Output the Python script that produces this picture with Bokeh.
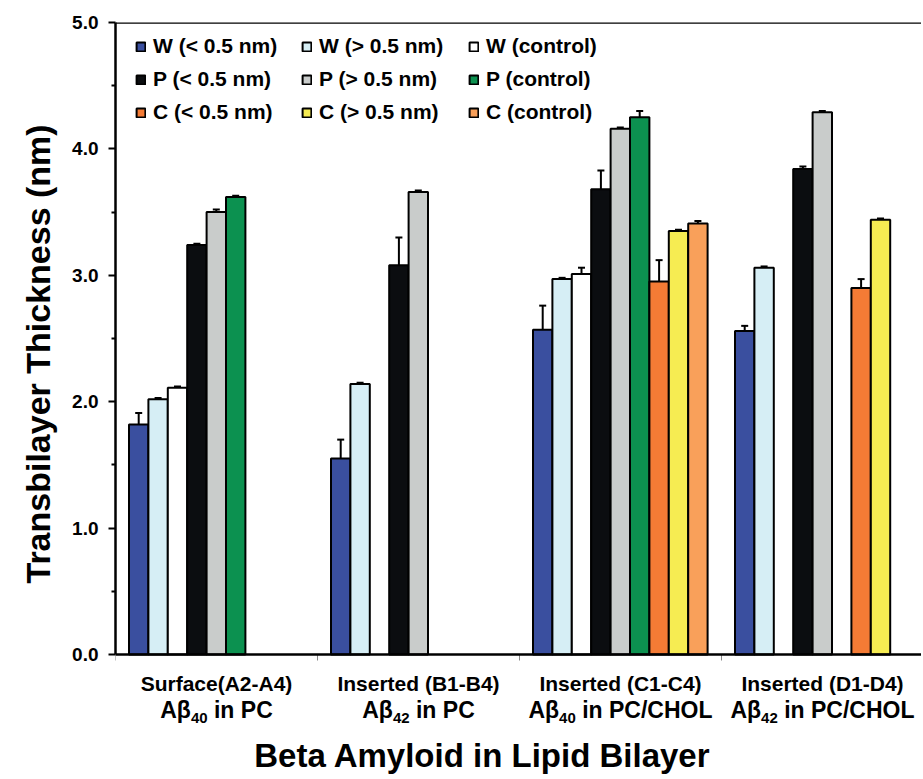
from bokeh.plotting import figure
from bokeh.models import (ColumnDataSource, Range1d, Legend, LegendItem, Whisker, TeeHead,
                          Span, Title, FixedTicker, PrintfTickFormatter)
from bokeh.core.properties import value
from bokeh.embed import file_html
from bokeh.resources import INLINE

# ---------------- data ----------------
group_line1 = ["Surface(A2-A4)", "Inserted (B1-B4)", "Inserted (C1-C4)", "Inserted (D1-D4)"]
group_line2_main = ["Aβ", "Aβ", "Aβ", "Aβ"]
group_line2_sub = ["40", "42", "40", "42"]
group_line2_rest = ["in PC", "in PC", "in PC/CHOL", "in PC/CHOL"]
x_title = "Beta Amyloid in Lipid Bilayer"
y_title = "Transbilayer Thickness (nm)"

series_names = ["W (< 0.5 nm)", "W (> 0.5 nm)", "W (control)",
                "P (< 0.5 nm)", "P (> 0.5 nm)", "P (control)",
                "C (< 0.5 nm)", "C (> 0.5 nm)", "C (control)"]

W_lt = [1.82, 1.55, 2.57, 2.56]
W_lt_err = [0.09, 0.15, 0.19, 0.04]
W_gt = [2.02, 2.14, 2.97, 3.06]
W_gt_err = [0.01, 0.01, 0.01, 0.01]
W_ctrl = [2.11, None, 3.01, None]
W_ctrl_err = [0.01, None, 0.05, None]
P_lt = [3.24, 3.08, 3.68, 3.84]
P_lt_err = [0.01, 0.22, 0.15, 0.02]
P_gt = [3.50, 3.66, 4.16, 4.29]
P_gt_err = [0.02, 0.01, 0.01, 0.01]
P_ctrl = [3.62, None, 4.25, None]
P_ctrl_err = [0.01, None, 0.05, None]
C_lt = [None, None, 2.95, 2.90]
C_lt_err = [None, None, 0.17, 0.07]
C_gt = [None, None, 3.35, 3.44]
C_gt_err = [None, None, 0.01, 0.01]
C_ctrl = [None, None, 3.41, None]
C_ctrl_err = [None, None, 0.02, None]

y_major_ticks = [0, 1, 2, 3, 4, 5]
y_minor_ticks = [0.5, 1.5, 2.5, 3.5, 4.5]
group_boundaries = [0, 1, 2, 3]

# ---------------- style ----------------
colors = ["#3a4f9f", "#d6eef5", "#ffffff",
          "#0b0d10", "#c9cccb", "#0c9150",
          "#f47b35", "#f6ec52", "#f9a05a"]
FONT = "Liberation Sans"

values = [W_lt, W_gt, W_ctrl, P_lt, P_gt, P_ctrl, C_lt, C_gt, C_ctrl]
errors = [W_lt_err, W_gt_err, W_ctrl_err, P_lt_err, P_gt_err, P_ctrl_err, C_lt_err, C_gt_err, C_ctrl_err]

W, H = 921, 777
BL, BT = 115, 22
FW = W - BL
PX_X = 202.0                 # pixels per category
PX_Y = 126.4                 # pixels per nm
XMAX = FW / PX_X
YMIN = -(H - 654) / PX_Y
YMAX = 5.0

p = figure(width=W, height=H, output_backend="svg", toolbar_location=None,
           x_range=Range1d(0, XMAX), y_range=Range1d(YMIN, YMAX),
           min_border_left=BL, min_border_right=0, min_border_top=BT, min_border_bottom=0)
p.outline_line_color = None
p.xgrid.visible = False
p.ygrid.visible = False
p.xaxis.visible = False
p.background_fill_color = "white"

off = 13.5 / PX_X
slot = 19.4 / PX_X

renderers = []
for j, (vals, errs) in enumerate(zip(values, errors)):
    xs, ys, lo, hi = [], [], [], []
    for g, (v, e) in enumerate(zip(vals, errs)):
        if v is None:
            continue
        xs.append(g + off + (j + 0.5) * slot)
        ys.append(v)
        lo.append(v - e)
        hi.append(v + e)
    src = ColumnDataSource(dict(x=xs, top=ys, lower=lo, upper=hi))
    r = p.vbar(x="x", top="top", bottom=0, width=slot, source=src,
               fill_color=colors[j], line_color="black", line_width=2)
    renderers.append(r)
    wk = Whisker(base="x", upper="upper", lower="lower", source=src, dimension="height",
                 line_color="black", line_width=2,
                 upper_head=TeeHead(size=7, line_width=2, line_color="black"),
                 lower_head=TeeHead(size=7, line_width=2, line_color="black"))
    p.add_layout(wk)

# frame lines
p.add_layout(Span(location=YMAX, dimension="width", line_color="black", line_width=2.5))
p.add_layout(Span(location=0, dimension="width", line_color="black", line_width=2.5))
# category boundary ticks below x axis
p.segment(x0=group_boundaries, y0=[0] * len(group_boundaries), x1=group_boundaries,
          y1=[-6 / PX_Y] * len(group_boundaries), line_color="#888888", line_width=1)

# y axis
ya = p.yaxis[0]
ya.ticker = FixedTicker(ticks=y_major_ticks, minor_ticks=y_minor_ticks)
ya.bounds = (0, YMAX)
ya.formatter = PrintfTickFormatter(format="%.1f")
ya.axis_line_width = 2.5
ya.axis_line_color = "black"
ya.major_tick_out = 7
ya.major_tick_in = 0
ya.minor_tick_out = 4
ya.minor_tick_in = 0
ya.major_tick_line_width = 2
ya.minor_tick_line_width = 2
ya.major_tick_line_color = "black"
ya.minor_tick_line_color = "black"
ya.major_label_standoff = 10
ya.major_label_text_font = FONT
ya.major_label_text_font_style = "bold"
ya.major_label_text_font_size = "19px"
ya.major_label_text_color = "black"

# y title (left panel)
p.add_layout(Title(text=y_title, align="left", offset=194, standoff=26,
                   text_font=FONT, text_font_style="bold", text_font_size="34px",
                   text_color="black"), "left")

# legends: three columns
leg_cols_x = [20, 186, 353]
for c in range(3):
    items = [LegendItem(label=series_names[c + 3 * k], renderers=[renderers[c + 3 * k]]) for k in range(3)]
    lg = Legend(items=items, location=(leg_cols_x[c], (H - BT) - 102), orientation="vertical",
                border_line_color=None, background_fill_alpha=0, padding=0, margin=0,
                spacing=9, label_height=24, glyph_height=11, glyph_width=11, label_standoff=7,
                label_text_font=FONT, label_text_font_style="bold", label_text_font_size="21px",
                label_text_color="black")
    p.add_layout(lg)


def glyph_w(s, size):
    tbl = {'A': 722, 'β': 611, '4': 556, '0': 556, '2': 556, ' ': 278, 'i': 278, 'n': 611,
           'P': 667, 'C': 722, '/': 278, 'H': 722, 'O': 778, 'L': 611}
    return sum(tbl.get(c, 600) for c in s) / 1000.0 * size


# category labels
L1, L2, LS = 21, 23, 15
cx = [g + 0.5 for g in range(4)]
p.text(x=cx, y=[-28.5 / PX_Y] * 4, text=group_line1, text_align="center", text_baseline="middle",
       text_font=value(FONT), text_font_style="bold", text_font_size=f"{L1}px", text_color="black")

xm, xs_, xr = [], [], []
for g in range(4):
    wm = glyph_w(group_line2_main[g], L2)
    ws = glyph_w(group_line2_sub[g], LS)
    wsp = glyph_w(" ", L2)
    wr = glyph_w(group_line2_rest[g], L2)
    x0 = cx[g] - (wm + ws + wsp + wr) / 2 / PX_X
    xm.append(x0)
    xs_.append(x0 + wm / PX_X)
    xr.append(x0 + (wm + ws + wsp) / PX_X)
mid2 = -55 / PX_Y
p.text(x=xm, y=[mid2] * 4, text=group_line2_main, text_align="left", text_baseline="middle",
       text_font=value(FONT), text_font_style="bold", text_font_size=f"{L2}px", text_color="black")
p.text(x=xs_, y=[-63.5 / PX_Y] * 4, text=group_line2_sub, text_align="left", text_baseline="middle",
       text_font=value(FONT), text_font_style="bold", text_font_size=f"{LS}px", text_color="black")
p.text(x=xr, y=[mid2] * 4, text=group_line2_rest, text_align="left", text_baseline="middle",
       text_font=value(FONT), text_font_style="bold", text_font_size=f"{L2}px", text_color="black")

# x title
p.text(x=[(482 - BL) / PX_X], y=[-101 / PX_Y], text=[x_title], text_align="center",
       text_baseline="middle", text_font=value(FONT), text_font_style="bold",
       text_font_size="33px", text_color="black")

open("out.html", "w").write(file_html(p, INLINE))
